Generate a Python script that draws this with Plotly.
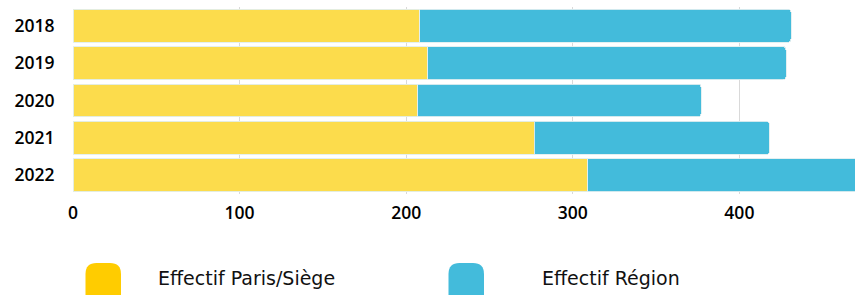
import plotly.graph_objects as go

years = ["2018", "2019", "2020", "2021", "2022"]
paris = [208, 213, 207, 277, 309]
region = [223, 215, 170, 141, 175]
series_names = ["Effectif Paris/Siège", "Effectif Région"]
bar_colors = ["#FCDC4C", "#43BBDB"]
legend_colors = ["#FFCC00", "#43BBDB"]
x_ticks = [0, 100, 200, 300, 400]

W, H = 855, 295
L, R, T, B = 73, 0, 7, 101
PW, PH = W - L - R, H - T - B

def px2paper(px, py):
    return (px - L) / PW, (H - B - py) / PH

def rounded_rect(x0, y0, x1, y1, r):
    def p(x, y):
        a, b = px2paper(x, y)
        return f"{a:.5f},{b:.5f}"
    return (f"M {p(x0 + r, y0)} L {p(x1 - r, y0)} Q {p(x1, y0)} {p(x1, y0 + r)} "
            f"L {p(x1, y1 - r)} Q {p(x1, y1)} {p(x1 - r, y1)} L {p(x0 + r, y1)} "
            f"Q {p(x0, y1)} {p(x0, y1 - r)} L {p(x0, y0 + r)} Q {p(x0, y0)} {p(x0 + r, y0)} Z")

tick_family = "Open Sans, sans-serif"
legend_family = "DejaVu Sans, sans-serif"

fig = go.Figure()
for name, vals, col in zip(series_names, [paris, region], bar_colors):
    fig.add_trace(go.Bar(
        y=years, x=vals, name=name, orientation="h",
        marker=dict(color=col, line=dict(color="rgba(225,238,240,0.9)", width=1)),
        showlegend=False, hoverinfo="skip",
    ))

shapes = []
annotations = []
legend_pos = [(85.5, 156), (448.5, 540)]
for (mx, tx), name, col in zip(legend_pos, series_names, legend_colors):
    shapes.append(dict(type="path", xref="paper", yref="paper",
                       path=rounded_rect(mx, 263, mx + 35.5, 305, 11),
                       fillcolor=col, line=dict(width=0), layer="above"))
    ax, ay = px2paper(tx, 277.5)
    annotations.append(dict(xref="paper", yref="paper", x=ax, y=ay,
                            xanchor="left", yanchor="middle", showarrow=False,
                            text=name, font=dict(family=legend_family, size=19, color="#111")))

tick_font = dict(family=tick_family, size=17.5, color="#000", weight=600)
fig.update_layout(
    width=W, height=H,
    margin=dict(l=L, r=R, t=T, b=B),
    barmode="stack", bargap=0.12,
    barcornerradius=3,
    plot_bgcolor="white", paper_bgcolor="white",
    shapes=shapes, annotations=annotations,
    xaxis=dict(range=[0, 469.4], tickvals=x_ticks, showgrid=True,
               gridcolor="#d9d9d9", gridwidth=1, zeroline=False, showline=False,
               ticks="outside", ticklen=3, tickcolor="rgba(0,0,0,0)",
               tickfont=tick_font),
    yaxis=dict(autorange="reversed", showgrid=False, zeroline=False, showline=False,
               ticks="outside", ticklen=14, tickcolor="rgba(0,0,0,0)",
               tickfont=tick_font),
)
fig.write_html("out.html", config={"displayModeBar": False},
               post_script="document.body.style.margin='0';document.body.style.overflow='hidden';")
